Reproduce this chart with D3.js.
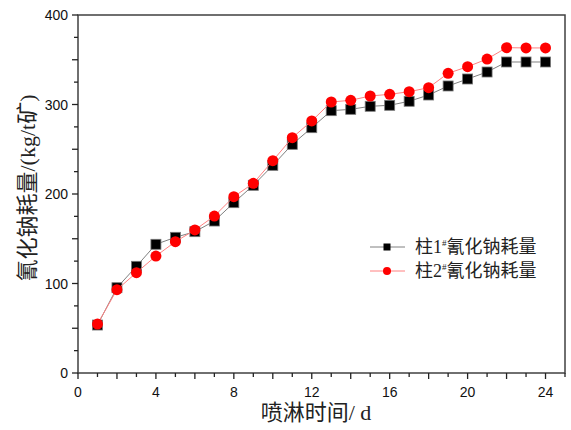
<!DOCTYPE html>
<html>
<head>
<meta charset="utf-8">
<script src="https://cdn.jsdelivr.net/npm/d3@7"></script>
<style>
  body { margin: 0; background: #fff; }
  text { font-family: Arial, "Liberation Sans", sans-serif; }
  .cn { font-family: "Liberation Serif", "Noto Sans CJK SC", serif; }
</style>
</head>
<body>
<svg id="chart" width="571" height="430"></svg>
<script>
const days = d3.range(1, 25)
const col1 = [53.6, 95.3, 119.2, 143.8, 151.6, 157.9, 169.8, 190.3, 209.7, 232, 255.5, 274.1,
  293.1, 294.6, 298, 299.1, 303.6, 310.6, 320.7, 328.5, 336.3, 347.5, 347.5, 347.5]
const col2 = [54.7, 93.1, 112.1, 130.7, 146.7, 159.8, 175.4, 197, 211.9, 237.2, 262.9, 281.6,
  302.8, 304.7, 309.5, 311.4, 314.3, 318.8, 334.9, 342.2, 350.8, 363.5, 363.2, 363.2]
const xLabels = [0, 4, 8, 12, 16, 20, 24]
const yLabels = [0, 100, 200, 300, 400]
const seriesNames = ["柱1", "柱2"]

const svg = d3.select("#chart")
const mLeft = 78, mRight = 565, mTop = 15, mBottom = 373

const x = d3.scaleLinear().domain([0, 25]).range([mLeft, mRight])
const y = d3.scaleLinear().domain([0, 400]).range([mBottom, mTop])

// frame
svg.append("rect")
  .attr("x", mLeft).attr("y", mTop)
  .attr("width", mRight - mLeft).attr("height", mBottom - mTop)
  .attr("fill", "none").attr("stroke", "#404040").attr("stroke-width", 1.5)

// x axis: major every 2, minor every 1
const xAxis = svg.append("g").attr("transform", `translate(0,${mBottom})`)
xAxis.selectAll("line")
  .data(d3.range(0, 26))
  .join("line")
  .attr("x1", d => x(d)).attr("x2", d => x(d))
  .attr("y1", 0).attr("y2", d => d % 2 === 0 ? 6 : 4)
  .attr("stroke", "#222").attr("stroke-width", 1.3)
xAxis.selectAll("text")
  .data(xLabels)
  .join("text")
  .attr("x", d => x(d)).attr("y", 24)
  .attr("text-anchor", "middle")
  .attr("font-size", 14)
  .attr("fill", "#111")
  .text(d => d)

// y axis: major every 50, minor every 25
const yAxis = svg.append("g").attr("transform", `translate(${mLeft},0)`)
yAxis.selectAll("line")
  .data(d3.range(0, 401, 25))
  .join("line")
  .attr("y1", d => y(d)).attr("y2", d => y(d))
  .attr("x1", 0).attr("x2", d => d % 50 === 0 ? -6 : -4)
  .attr("stroke", "#222").attr("stroke-width", 1.3)
yAxis.selectAll("text")
  .data(yLabels)
  .join("text")
  .attr("x", -10).attr("y", d => y(d) + 5)
  .attr("text-anchor", "end")
  .attr("font-size", 14)
  .attr("fill", "#111")
  .text(d => d)

// axis titles
svg.append("text")
  .attr("class", "cn")
  .attr("x", 316).attr("y", 420)
  .attr("text-anchor", "middle")
  .attr("font-size", 22)
  .attr("fill", "#222")
  .text("喷淋时间/ d")

svg.append("text")
  .attr("class", "cn")
  .attr("transform", "translate(35,188) rotate(-90)")
  .attr("text-anchor", "middle")
  .attr("font-size", 22)
  .attr("fill", "#222")
  .text("氰化钠耗量/(kg/t矿)")

const line = d3.line().x((d, i) => x(days[i])).y(d => y(d))

// series 1: black squares
svg.append("path")
  .datum(col1)
  .attr("d", line)
  .attr("fill", "none").attr("stroke", "#808080").attr("stroke-width", 1)
svg.append("g").selectAll("rect")
  .data(col1)
  .join("rect")
  .attr("x", (d, i) => x(days[i]) - 5).attr("y", d => y(d) - 5)
  .attr("width", 10).attr("height", 10)
  .attr("fill", "#000").attr("stroke", "#777").attr("stroke-width", 0.8)

// series 2: red circles
svg.append("path")
  .datum(col2)
  .attr("d", line)
  .attr("fill", "none").attr("stroke", "#ff8080").attr("stroke-width", 1)
svg.append("g").selectAll("circle")
  .data(col2)
  .join("circle")
  .attr("cx", (d, i) => x(days[i])).attr("cy", d => y(d))
  .attr("r", 5.5)
  .attr("fill", "#ff0000")

// legend
const legend = svg.append("g")
const rows = [
  { name: seriesNames[0], y: 247, line: "#808080", shape: "square" },
  { name: seriesNames[1], y: 271, line: "#ff8080", shape: "circle" }
]
rows.forEach(r => {
  legend.append("line")
    .attr("x1", 370).attr("x2", 405)
    .attr("y1", r.y).attr("y2", r.y)
    .attr("stroke", r.line).attr("stroke-width", 1)
  if (r.shape === "square") {
    legend.append("rect")
      .attr("x", 383.5).attr("y", r.y - 3.5)
      .attr("width", 7).attr("height", 7)
      .attr("fill", "#000")
  } else {
    legend.append("circle")
      .attr("cx", 387).attr("cy", r.y).attr("r", 4)
      .attr("fill", "#ff0000")
  }
  const t = legend.append("text")
    .attr("class", "cn")
    .attr("x", 415).attr("y", r.y + 6)
    .attr("font-size", 18)
    .attr("fill", "#222")
  t.append("tspan").text(r.name)
  t.append("tspan").attr("font-size", 9).attr("dy", -7).text("#")
  t.append("tspan").attr("dy", 7).text("氰化钠耗量")
})
</script>
</body>
</html>
